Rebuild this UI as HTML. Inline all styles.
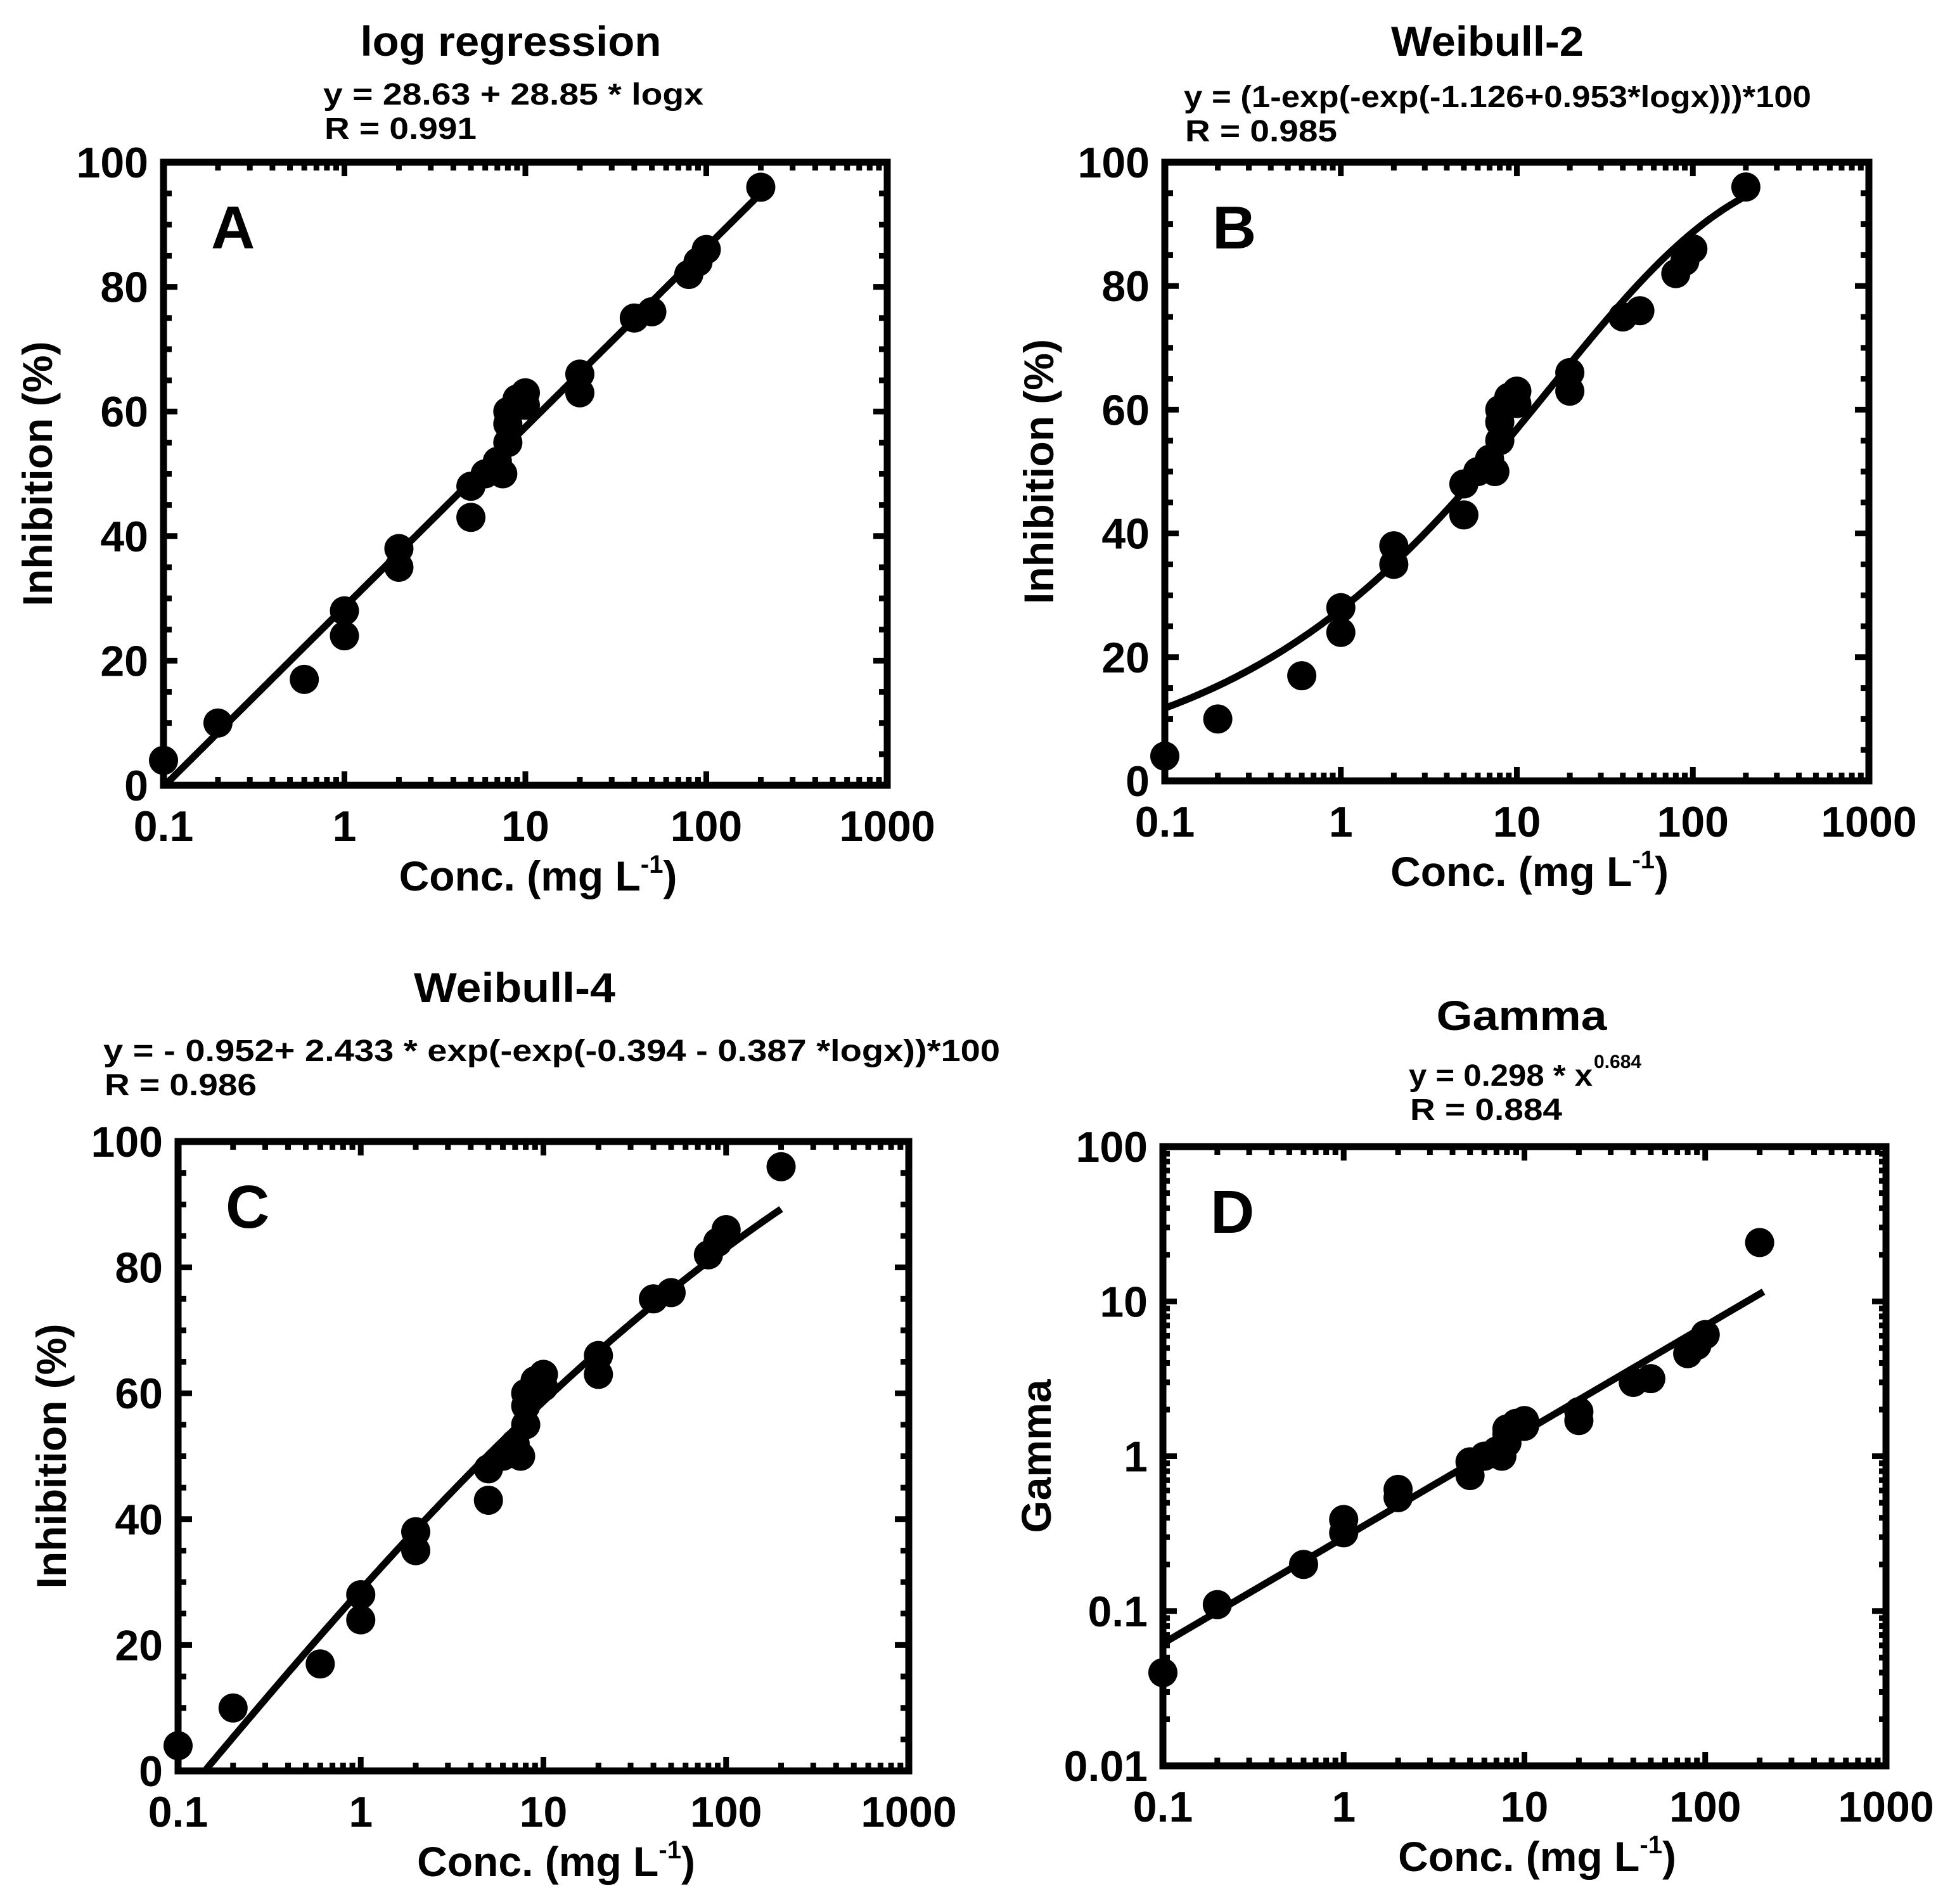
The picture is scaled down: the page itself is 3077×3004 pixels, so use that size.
<!DOCTYPE html>
<html><head><meta charset="utf-8"><style>
html,body{margin:0;padding:0;background:#fff;}
svg{display:block;font-family:"Liberation Sans",Arial,sans-serif;font-weight:bold;}
</style></head><body>
<svg id="fig" width="3077" height="3004" viewBox="0 0 3077 3004" xmlns="http://www.w3.org/2000/svg"></svg>
<script>
// Shared data (concentration, inhibition %)
const concValues = [0.1,0.2,0.6,1,1,2,2,5,5,6,7,7.5,8,8,8,9,10,10,20,20,40,50,80,90,100,200];
const inhibitionValues = [4,10,17,28,24,38,35,48,43,50,52,50,60,58,55,62,63,61,66,63,75,76,82,84,86,96];
const gammaValues = [0.04,0.11,0.2,0.39,0.32,0.61,0.54,0.92,0.75,1.0,1.08,1.0,1.5,1.38,1.22,1.63,1.7,1.56,1.94,1.7,3.0,3.17,4.6,5.2,6.1,24];
const xTickLabels = ["0.1","1","10","100","1000"];
const yTickLabelsLinear = ["0","20","40","60","80","100"];
const yTickLabelsLog = ["0.01","0.1","1","10","100"];
const fitA = [28.63, 28.85];
const fitB = [-1.126, 0.953];
const fitC = [-0.952, 2.433, -0.394, -0.387];
const fitD = [0.298, 0.684];

const NS="http://www.w3.org/2000/svg";
const svg=document.getElementById('fig');
function mk(tag,attrs,parent){const e=document.createElementNS(NS,tag);for(const k in attrs)e.setAttribute(k,attrs[k]);(parent||svg).appendChild(e);return e;}

function panel(cfg){
  const g=mk('g',{});
  
  
  const L=cfg.box[0],R=cfg.box[1],T=cfg.box[2],B=cfg.box[3];
  const xs=v=>L+(Math.log10(v)+1)/4*(R-L);
  const ys=cfg.ylog? v=>B-(Math.log10(v)+2)/4*(B-T) : v=>B-v/100*(B-T);
  const tk=mk('g',{stroke:'#000','stroke-width':9},g);
  
  
  for(let d=-1;d<3;d++){for(let m=1;m<10;m++){const x=xs(m*Math.pow(10,d));const len=m==1?22:13;
    mk('line',{x1:x,x2:x,y1:B,y2:B-len},tk);mk('line',{x1:x,x2:x,y1:T,y2:T+len},tk);}}
  if(cfg.ylog){for(let d=-2;d<2;d++){for(let m=1;m<10;m++){const y=ys(m*Math.pow(10,d));const len=m==1?22:11;
    mk('line',{x1:L,x2:L+len,y1:y,y2:y},tk);mk('line',{x1:R,x2:R-len,y1:y,y2:y},tk);}}}
  else{for(let v=0;v<=100;v+=5){const y=ys(v);const len=v%20==0?22:13;
    mk('line',{x1:L,x2:L+len,y1:y,y2:y},tk);mk('line',{x1:R,x2:R-len,y1:y,y2:y},tk);}}
  const fr=mk('rect',{x:L,y:T,width:R-L,height:B-T,fill:'none',stroke:'#000','stroke-width':11},g);
  
  
  xTickLabels.forEach((t,i)=>{const e=mk('text',{x:xs(Math.pow(10,i-1)),y:B+88,'font-size':68,'text-anchor':'middle'},g);e.textContent=t;
    
    });
  const yl=cfg.ylog?yTickLabelsLog:yTickLabelsLinear;
  yl.forEach((t,i)=>{const v=cfg.ylog?Math.pow(10,i-2):i*20;const e=mk('text',{x:L-24,y:ys(v)+24,'font-size':68,'text-anchor':'end'},g);e.textContent=t;
    
    });
  const xt=mk('text',{x:(L+R)/2+20,y:B+166,'font-size':66,'text-anchor':'middle'},g);
  xt.innerHTML='Conc. (mg L<tspan dy="-28" font-size="40">-1</tspan><tspan dy="28">)</tspan>';
  
  
  const yt=mk('text',{transform:`translate(${cfg.ytx},${(T+B)/2}) rotate(-90)`,'font-size':66,'text-anchor':'middle'},g);
  yt.textContent=cfg.ylabel;
  
  
  const ti=mk('text',{x:cfg.title[1],y:cfg.title[2],'font-size':66,'text-anchor':'middle',textLength:cfg.title[3],lengthAdjust:'spacingAndGlyphs'},g);
  ti.textContent=cfg.title[0];
  
  
  const eq=mk('text',{x:cfg.eq[1],y:cfg.eq[2],'font-size':48,textLength:cfg.eq[3],lengthAdjust:'spacingAndGlyphs'},g);
  eq.textContent=cfg.eq[0];
  
  
  if(cfg.sup){const s=mk('text',{x:cfg.eq[1]+cfg.eq[3]+2,y:cfg.eq[2]-28,'font-size':30},g);s.textContent=cfg.sup;
    
    }
  const r=mk('text',{x:cfg.eq[1]+2,y:cfg.eq[2]+54,'font-size':48,textLength:240,lengthAdjust:'spacingAndGlyphs'},g);
  r.textContent=cfg.r;
  
  
  const lt=mk('text',{x:L+75,y:T+136,'font-size':96},g);
  lt.textContent=cfg.id;
  
  
  const ys_=cfg.yvals;
  concValues.forEach((c,i)=>{const p=mk('circle',{cx:xs(c),cy:ys(ys_[i]),r:23,fill:'#000'},g);
    
    });
  let d='';let first=true;
  for(let k=0;k<=300;k++){const lx=cfg.fx[0]+(cfg.fx[1]-cfg.fx[0])*k/300;const x=Math.pow(10,lx);const y=cfg.fit(x,lx);
    if(!cfg.ylog&&y<0)continue;d+=(first?'M':'L')+xs(x).toFixed(1)+','+ys(y).toFixed(1);first=false;}
  const fl=mk('path',{d:d,fill:'none',stroke:'#000','stroke-width':11},g);
  
  
}

panel({id:'A',box:[258,1400,256,1239],ylabel:'Inhibition (%)',ytx:82,yvals:inhibitionValues,
  title:['log regression',806,88,475],eq:['y = 28.63 + 28.85 * logx',510,165,600],r:'R = 0.991',
  fx:[-1,Math.log10(200)],fit:(x,lx)=>fitA[0]+fitA[1]*lx});
panel({id:'B',box:[1838,2949,256,1232],ylabel:'Inhibition (%)',ytx:1662,yvals:inhibitionValues,
  title:['Weibull-2',2347,88,304],eq:['y = (1-exp(-exp(-1.126+0.953*logx)))*100',1868,169,990],r:'R = 0.985',
  fx:[-1,Math.log10(200)],fit:(x,lx)=>(1-Math.exp(-Math.exp(fitB[0]+fitB[1]*lx)))*100});
panel({id:'C',box:[281,1434,1801,2794],ylabel:'Inhibition (%)',ytx:104,yvals:inhibitionValues,
  title:['Weibull-4',812,1581,318],eq:['y = - 0.952+ 2.433 * exp(-exp(-0.394 - 0.387 *logx))*100',163,1674,1415],r:'R = 0.986',
  fx:[-1,Math.log10(200)],fit:(x,lx)=>(fitC[0]+fitC[1]*Math.exp(-Math.exp(fitC[2]+fitC[3]*lx)))*100});
panel({id:'D',box:[1835,2976,1809,2786],ylabel:'Gamma',ytx:1658,yvals:gammaValues,ylog:true,
  title:['Gamma',2401,1625,269],eq:['y = 0.298 * x',2223,1713,290],sup:'0.684',r:'R = 0.884',
  fx:[-1,Math.log10(210)],fit:(x,lx)=>fitD[0]*Math.pow(x,fitD[1])});
</script>
</body></html>
